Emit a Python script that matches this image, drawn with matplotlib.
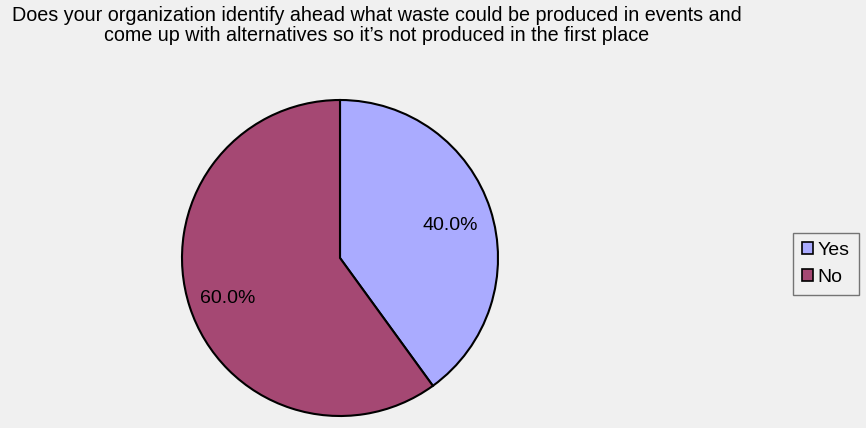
import matplotlib.pyplot as plt
import matplotlib.transforms as mtransforms
from matplotlib.patches import Patch

labels = ['Yes', 'No']
values = [40.0, 60.0]
colors = ['#aaabff', '#a54873']
title = ('Does your organization identify ahead what waste could be produced in events and\n'
         'come up with alternatives so it\u2019s not produced in the first place')

plt.rcParams['font.family'] = ['Liberation Sans', 'DejaVu Sans']

W, H = 866, 428
fig = plt.figure(figsize=(W / 100, H / 100), dpi=100, facecolor='#f0f0f0')

cx, cy, r = 340, 258, 158
ax = fig.add_axes([(cx - r) / W, (H - cy - r) / H, 2 * r / W, 2 * r / H])
ax.set_facecolor('#f0f0f0')

wedges, texts, autotexts = ax.pie(values, colors=colors, startangle=90, counterclock=False,
                                  autopct='%.1f%%', pctdistance=0.74,
                                  wedgeprops=dict(edgecolor='black', linewidth=1.5),
                                  textprops=dict(fontsize=14, color='black'))
ax.set_xlim(-1, 1)
ax.set_ylim(-1, 1)
ax.set_aspect('equal')
# nudge the percentage labels down a few pixels
for t in autotexts:
    t.set_transform(mtransforms.offset_copy(ax.transData, fig=fig, x=-1, y=-4, units='dots'))

fig.text(377 / W, 1 - 6 / H, title, ha='center', va='top', fontsize=14.2,
         linespacing=1.05)

handles = [Patch(facecolor=c, edgecolor='black', linewidth=1.2) for c in colors]
leg = fig.legend(handles, labels, loc='center', bbox_to_anchor=(826 / W, 1 - 264 / H),
                 fontsize=14, frameon=True, fancybox=False, handlelength=0.55,
                 handleheight=0.55, handletextpad=0.25, borderpad=0.45, labelspacing=0.5,
                 borderaxespad=0)
leg.get_frame().set_edgecolor('#555555')
leg.get_frame().set_facecolor('#f0f0f0')
leg.get_frame().set_linewidth(1.0)

fig.savefig('out.png', dpi=100, facecolor=fig.get_facecolor())
